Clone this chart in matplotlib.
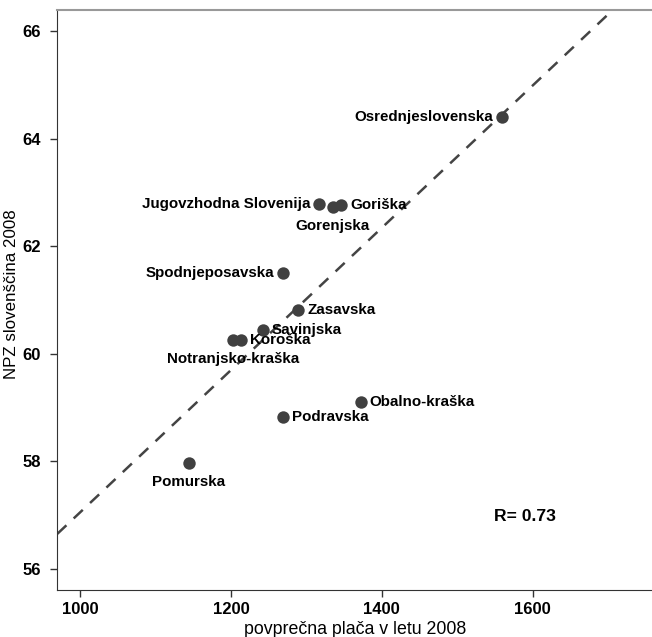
import matplotlib
matplotlib.use("Agg")
import matplotlib.pyplot as plt
import numpy as np

plt.rcParams['font.family'] = ['Liberation Sans', 'DejaVu Sans']

regions = ["Osrednjeslovenska", "Jugovzhodna Slovenija", "Gorenjska", "Goriška",
           "Spodnjeposavska", "Zasavska", "Savinjska", "Koroška",
           "Notranjsko-kraška", "Obalno-kraška", "Podravska", "Pomurska"]
placa = [1559, 1317, 1335, 1346, 1269, 1289, 1242, 1213, 1203, 1372, 1269, 1144]
npz = [64.40, 62.78, 62.73, 62.77, 61.50, 60.81, 60.44, 60.26, 60.26, 59.10, 58.83, 57.97]
# label placement: 'l' left of point, 'r' right, 'b' below
placement = ['l', 'l', 'b', 'r', 'l', 'r', 'r', 'r', 'b', 'r', 'r', 'b']

fit_slope = 0.01323
fit_intercept = 43.82
r_text = "R= 0.73"

xticks = [1000, 1200, 1400, 1600]
yticks = [56, 58, 60, 62, 64, 66]

fig = plt.figure(figsize=(6.52, 6.37), dpi=100)
ax = fig.add_axes([0.0879, 0.0738, 0.9121, 0.9105])

xlim = (970, 1758)
ylim = (55.61, 66.39)

xs = np.array(xlim)
ax.plot(xs, fit_intercept + fit_slope * xs, linestyle=(0, (5, 4)), color='#444444', lw=1.8, zorder=1)

ax.scatter(placa, npz, s=80, color='#404040', zorder=3, linewidths=0)

for name, x, y, p in zip(regions, placa, npz, placement):
    if p == 'l':
        off, ha, va = (-6.5, 0), 'right', 'center'
    elif p == 'r':
        off, ha, va = (6.5, 0), 'left', 'center'
    else:
        off, ha, va = (0, -13.5), 'center', 'center'
    ax.annotate(name, (x, y), xytext=off, textcoords='offset points',
                ha=ha, va=va, fontsize=10.9, fontweight='bold', color='black')

ax.text(1589, 56.97, r_text, ha='center', va='center', fontsize=12.6, fontweight='bold')

ax.set_xlim(*xlim)
ax.set_ylim(*ylim)
ax.set_xticks(xticks)
ax.set_yticks(yticks)
for lab in ax.get_xticklabels() + ax.get_yticklabels():
    lab.set_fontweight('bold')
ax.tick_params(axis='both', direction='out', length=5, width=1, color='#333333', labelsize=12, pad=3.5)
ax.tick_params(axis='y', pad=7)

ax.set_xlabel("povprečna plača v letu 2008", fontsize=12.8, labelpad=3)
ax.set_ylabel("NPZ slovenščina 2008", fontsize=12.2)
ax.yaxis.set_label_coords(-0.064, 0.51)

ax.spines['right'].set_visible(False)
ax.spines['top'].set_color('#999999')
ax.spines['top'].set_linewidth(1.5)
ax.spines['left'].set_color('#333333')
ax.spines['bottom'].set_color('#333333')

fig.savefig("out.png", dpi=100)
